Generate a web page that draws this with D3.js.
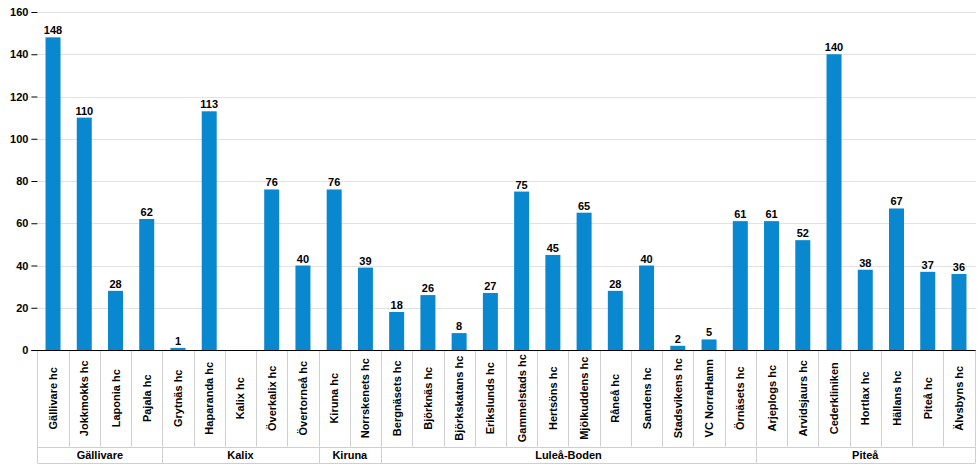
<!DOCTYPE html>
<html><head><meta charset="utf-8">
<script src="https://cdn.jsdelivr.net/npm/d3@7"></script>
<style>body{margin:0;background:#fff}svg{display:block;font-family:"Liberation Sans",Arial,sans-serif}</style>
</head><body><svg id="c" width="980" height="468"></svg>
<script>
const categories = ["Gällivare hc","Jokkmokks hc","Laponia hc","Pajala hc","Grytnäs hc","Haparanda hc","Kalix hc","Överkalix hc","Övertorneå hc","Kiruna hc","Norrskenets hc","Bergnäsets hc","Björknäs hc","Björkskatans hc","Erikslunds hc","Gammelstads hc","Hertsöns hc","Mjölkuddens hc","Råneå hc","Sandens hc","Stadsvikens hc","VC NorraHamn","Örnäsets hc","Arjeplogs hc","Arvidsjaurs hc","Cederkliniken","Hortlax hc","Hällans hc","Piteå hc","Älvsbyns hc"];
const values = [148,110,28,62,1,113,null,76,40,76,39,18,26,8,27,75,45,65,28,40,2,5,61,61,52,140,38,67,37,36];
const groups = ["Gällivare","Kalix","Kiruna","Luleå-Boden","Piteå"];
const groupSizes = [4,5,2,12,7];
const yTicks = [0,20,40,60,80,100,120,140,160];

const svg = d3.select("#c");
const L = 37.4, R = 974.6, T = 12, B = 350, row1 = 446.5, row2 = 463;
const x = d3.scaleBand().domain(categories).range([L, R]).paddingInner(0).paddingOuter(0);
const y = d3.scaleLinear().domain([0,160]).range([B, T]);

// gridlines
svg.append("g").selectAll("line").data(yTicks.filter(d=>d>0)).join("line")
  .attr("x1", L).attr("x2", 976).attr("y1", d=>Math.round(y(d))+0.5).attr("y2", d=>Math.round(y(d))+0.5)
  .attr("stroke","#e2e2e2").attr("stroke-width",1);

// y axis
const ya = svg.append("g").attr("transform",`translate(${L},0)`)
  .call(d3.axisLeft(y).tickValues(yTicks).tickSize(6).tickPadding(3));
ya.select(".domain").remove();
ya.selectAll(".tick line").attr("stroke","#000");
ya.selectAll("text").attr("font-size","11px").attr("font-weight","bold").attr("fill","#000")
  .attr("font-family","'Liberation Sans',Arial,sans-serif");

// bars
const bw = 15;
svg.append("g").selectAll("rect").data(categories.map((c,i)=>({c,v:values[i]})).filter(d=>d.v!=null)).join("rect")
  .attr("x", d=>x(d.c)+x.bandwidth()/2-bw/2).attr("width", bw)
  .attr("y", d=>y(d.v)).attr("height", d=>y(0)-y(d.v))
  .attr("fill","#0a88cf");

// value labels
svg.append("g").selectAll("text").data(categories.map((c,i)=>({c,v:values[i]})).filter(d=>d.v!=null)).join("text")
  .attr("x", d=>x(d.c)+x.bandwidth()/2).attr("y", d=>y(d.v)-3)
  .attr("text-anchor","middle").attr("font-size","11px").attr("font-weight","bold").attr("fill","#000")
  .text(d=>d.v);

// category table lines
const tbl = svg.append("g");
const bounds = d3.range(categories.length+1).map(i=> i<categories.length ? x(categories[i]) : R);
tbl.selectAll("line.cat").data(bounds).join("line").attr("class","cat")
  .attr("x1",d=>Math.round(d)+0.5).attr("x2",d=>Math.round(d)+0.5)
  .attr("y1",B).attr("y2",row1).attr("stroke","#cfcfcf");
let cum=[0]; groupSizes.forEach(s=>cum.push(cum[cum.length-1]+s));
tbl.selectAll("line.grp").data(cum).join("line").attr("class","grp")
  .attr("x1",d=>Math.round(bounds[d])+0.5).attr("x2",d=>Math.round(bounds[d])+0.5)
  .attr("y1",row1).attr("y2",row2).attr("stroke","#cfcfcf");
[row1,row2].forEach(yy=>tbl.append("line").attr("x1",L).attr("x2",R+1).attr("y1",Math.round(yy)+0.5).attr("y2",Math.round(yy)+0.5).attr("stroke","#cfcfcf"));

// axis line
svg.append("line").attr("x1",L-6).attr("x2",R+1).attr("y1",B+0.5).attr("y2",B+0.5).attr("stroke","#000");

// category labels
const cy = (B+row1)/2;
svg.append("g").selectAll("text").data(categories).join("text")
  .attr("transform", d=>`translate(${x(d)+x.bandwidth()/2+4},${cy}) rotate(-90)`)
  .attr("text-anchor","middle").attr("font-size","11px").attr("font-weight","bold").attr("fill","#000")
  .text(d=>d);

// group labels
svg.append("g").selectAll("text").data(groups).join("text")
  .attr("x",(d,i)=>(bounds[cum[i]]+bounds[cum[i+1]])/2).attr("y",(row1+row2)/2+4)
  .attr("text-anchor","middle").attr("font-size","11px").attr("font-weight","bold").attr("fill","#000")
  .text(d=>d);
</script></body></html>
